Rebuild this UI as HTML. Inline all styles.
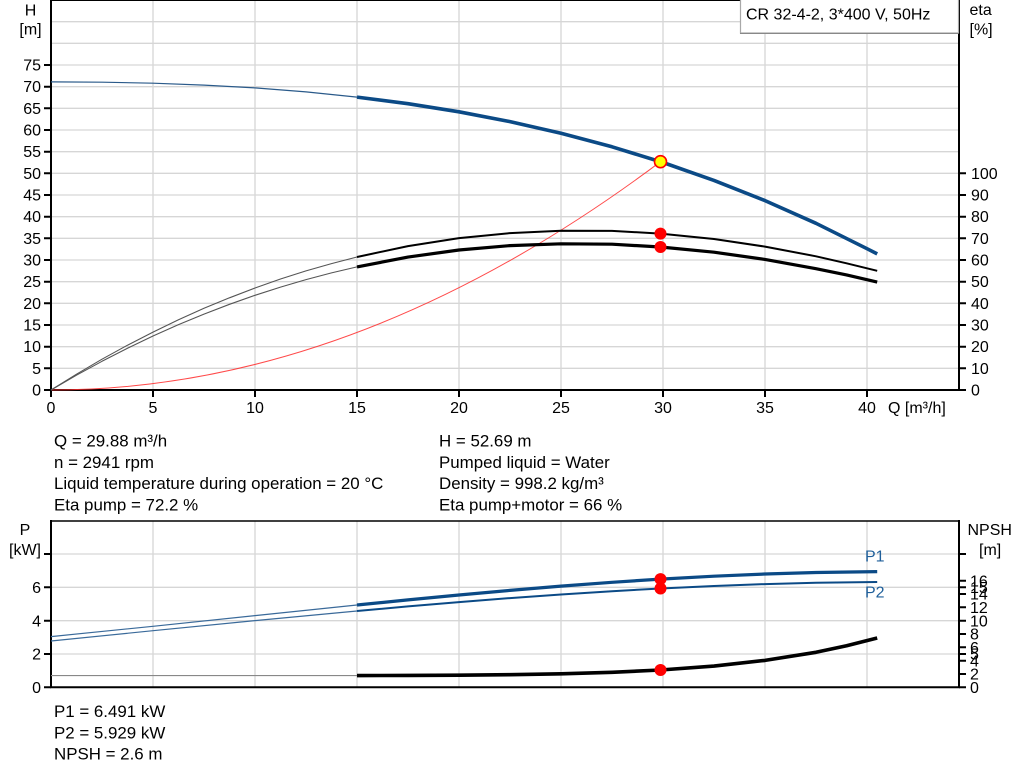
<!DOCTYPE html>
<html>
<head>
<meta charset="utf-8">
<style>
html,body{margin:0;padding:0;background:#fff;}
svg{display:block;}
text{font-family:"Liberation Sans",Arial,sans-serif;fill:#000;}
.ax{font-size:16px;}
.tx{font-size:16.9px;}
</style>
</head>
<body>
<svg width="1024" height="781" viewBox="0 0 1024 781" xmlns="http://www.w3.org/2000/svg">
<rect x="0" y="0" width="1024" height="781" fill="#fff"/>

<!-- ===== TOP CHART ===== -->
<g stroke="#d6d6d6" stroke-width="1.3" fill="none">
  <line x1="51" y1="368.3" x2="959" y2="368.3"/>
  <line x1="51" y1="346.7" x2="959" y2="346.7"/>
  <line x1="51" y1="325" x2="959" y2="325"/>
  <line x1="51" y1="303.3" x2="959" y2="303.3"/>
  <line x1="51" y1="281.7" x2="959" y2="281.7"/>
  <line x1="51" y1="260" x2="959" y2="260"/>
  <line x1="51" y1="238.3" x2="959" y2="238.3"/>
  <line x1="51" y1="216.7" x2="959" y2="216.7"/>
  <line x1="51" y1="195" x2="959" y2="195"/>
  <line x1="51" y1="173.3" x2="959" y2="173.3"/>
  <line x1="51" y1="151.7" x2="959" y2="151.7"/>
  <line x1="51" y1="130" x2="959" y2="130"/>
  <line x1="51" y1="108.3" x2="959" y2="108.3"/>
  <line x1="51" y1="86.7" x2="959" y2="86.7"/>
  <line x1="51" y1="65" x2="959" y2="65"/>
  <line x1="51" y1="43.3" x2="959" y2="43.3"/>
  <line x1="51" y1="21.7" x2="959" y2="21.7"/>
  <line x1="153" y1="0" x2="153" y2="390"/>
  <line x1="255" y1="0" x2="255" y2="390"/>
  <line x1="357" y1="0" x2="357" y2="390"/>
  <line x1="459" y1="0" x2="459" y2="390"/>
  <line x1="561" y1="0" x2="561" y2="390"/>
  <line x1="663" y1="0" x2="663" y2="390"/>
  <line x1="765" y1="0" x2="765" y2="390"/>
  <line x1="867" y1="0" x2="867" y2="390"/>
</g>

<!-- axes -->
<g stroke="#000" fill="none">
  <line x1="51" y1="0.5" x2="959" y2="0.5" stroke-width="1"/>
  <line x1="51" y1="0" x2="51" y2="391" stroke-width="2"/>
  <line x1="959" y1="0" x2="959" y2="391" stroke-width="2"/>
  <line x1="50" y1="390" x2="960" y2="390" stroke-width="2"/>
  <path stroke-width="2" d="M44 390H51M44 368.3H51M44 346.7H51M44 325H51M44 303.3H51M44 281.7H51M44 260H51M44 238.3H51M44 216.7H51M44 195H51M44 173.3H51M44 151.7H51M44 130H51M44 108.3H51M44 86.7H51M44 65H51"/>
  <path stroke-width="2" d="M959 390H966M959 368.3H966M959 346.7H966M959 325H966M959 303.3H966M959 281.7H966M959 260H966M959 238.3H966M959 216.7H966M959 195H966M959 173.3H966"/>
  <path stroke-width="2" d="M51 390V397M153 390V397M255 390V397M357 390V397M459 390V397M561 390V397M663 390V397M765 390V397M867 390V397"/>
</g>

<g class="ax" text-anchor="end">
  <text x="41" y="395.5">0</text>
  <text x="41" y="373.8">5</text>
  <text x="41" y="352.2">10</text>
  <text x="41" y="330.5">15</text>
  <text x="41" y="308.8">20</text>
  <text x="41" y="287.2">25</text>
  <text x="41" y="265.5">30</text>
  <text x="41" y="243.8">35</text>
  <text x="41" y="222.2">40</text>
  <text x="41" y="200.5">45</text>
  <text x="41" y="178.8">50</text>
  <text x="41" y="157.2">55</text>
  <text x="41" y="135.5">60</text>
  <text x="41" y="113.8">65</text>
  <text x="41" y="92.2">70</text>
  <text x="41" y="70.5">75</text>
</g>
<text class="ax" x="30.5" y="15.5" text-anchor="middle">H</text>
<text class="ax" x="30.5" y="34.5" text-anchor="middle">[m]</text>

<g class="ax">
  <text x="971" y="395.5">0</text>
  <text x="971" y="373.8">10</text>
  <text x="971" y="352.2">20</text>
  <text x="971" y="330.5">30</text>
  <text x="971" y="308.8">40</text>
  <text x="971" y="287.2">50</text>
  <text x="971" y="265.5">60</text>
  <text x="971" y="243.8">70</text>
  <text x="971" y="222.2">80</text>
  <text x="971" y="200.5">90</text>
  <text x="971" y="178.8">100</text>
  <text x="969.5" y="15">eta</text>
  <text x="969.5" y="34.5">[%]</text>
</g>

<g class="ax" text-anchor="middle">
  <text x="51" y="413">0</text>
  <text x="153" y="413">5</text>
  <text x="255" y="413">10</text>
  <text x="357" y="413">15</text>
  <text x="459" y="413">20</text>
  <text x="561" y="413">25</text>
  <text x="663" y="413">30</text>
  <text x="765" y="413">35</text>
  <text x="867" y="413">40</text>
</g>
<text class="ax" x="888" y="413">Q [m³/h]</text>

<!-- legend box -->
<rect x="740.5" y="-2" width="218" height="35" fill="#fff" stroke="#a8a8a8" stroke-width="1.2"/>
<line x1="740" y1="33.5" x2="958" y2="33.5" stroke="#888" stroke-width="1"/>
<text class="ax" x="746" y="19.5">CR 32-4-2, 3*400 V, 50Hz</text>

<!-- system curve (red) -->
<path d="M51 390 Q355.8 390 660.5 161.7" fill="none" stroke="#ff2a2a" stroke-width="1" opacity="0.85"/>

<!-- eta curves thin -->
<g fill="none" stroke="#555" stroke-width="1.1" stroke-linejoin="round">
  <path d="M51 390 L76.5 374.2 L102 359.2 L127.5 345.2 L153 332.1 L178.5 319.8 L204 308.3 L229.5 297.8 L255 288 L280.5 279 L306 270.9 L331.5 263.6 L357 257"/>
  <path d="M51 390 L76.5 375.2 L102 361.3 L127.5 348.2 L153 336 L178.5 324.6 L204 314.1 L229.5 304.3 L255 295.3 L280.5 287.1 L306 279.6 L331.5 272.9 L357 266.9"/>
</g>
<g fill="none" stroke="#000" stroke-linejoin="round" stroke-linecap="butt">
  <path stroke-width="2" d="M357 257 L408 246.1 L459 238.1 L510 233.1 L561 230.7 L612 230.9 L660.5 233.6 L714 239 L765 246.6 L816 256.3 L846.6 263.3 L877.2 270.8"/>
  <path stroke-width="3.2" d="M357 266.9 L408 257.1 L459 250 L510 245.6 L561 243.8 L612 244.2 L660.5 247 L714 252.2 L765 259.4 L816 268.7 L846.6 274.9 L877.2 282.1"/>
</g>

<!-- H curve -->
<path d="M51 81.9 L102 82.2 L153 83.2 L204 85.1 L255 87.9 L306 91.9 L357 97.1" fill="none" stroke="#2a5a8a" stroke-width="1.2" stroke-linejoin="round"/>
<path d="M357 97.1 L408 103.7 L459 111.8 L510 121.6 L561 133.3 L612 146.8 L663 162.5 L714 180.4 L765 200.6 L816 223.3 L867 248.7 L877.2 253.9" fill="none" stroke="#0b4a86" stroke-width="3.6" stroke-linejoin="round"/>

<circle cx="660.5" cy="233.6" r="6" fill="#ff0000"/>
<circle cx="660.5" cy="247" r="6" fill="#ff0000"/>
<circle cx="660.5" cy="161.7" r="6" fill="#ffff00" stroke="#ff0000" stroke-width="1.6"/>

<!-- ===== TEXT BLOCK ===== -->
<g class="tx">
  <text x="54" y="446.5">Q = 29.88 m³/h</text>
  <text x="54" y="467.8">n = 2941 rpm</text>
  <text x="54" y="489">Liquid temperature during operation = 20 °C</text>
  <text x="54" y="510.3">Eta pump = 72.2 %</text>
  <text x="439" y="446.5">H = 52.69 m</text>
  <text x="439" y="467.8">Pumped liquid = Water</text>
  <text x="439" y="489">Density = 998.2 kg/m³</text>
  <text x="439" y="510.3">Eta pump+motor = 66 %</text>
</g>

<!-- ===== BOTTOM CHART ===== -->
<g stroke="#d6d6d6" stroke-width="1.3" fill="none">
  <line x1="51" y1="654" x2="959" y2="654"/>
  <line x1="51" y1="620.7" x2="959" y2="620.7"/>
  <line x1="51" y1="587.3" x2="959" y2="587.3"/>
  <line x1="51" y1="554" x2="959" y2="554"/>
  <line x1="153" y1="521" x2="153" y2="687"/>
  <line x1="255" y1="521" x2="255" y2="687"/>
  <line x1="357" y1="521" x2="357" y2="687"/>
  <line x1="459" y1="521" x2="459" y2="687"/>
  <line x1="561" y1="521" x2="561" y2="687"/>
  <line x1="663" y1="521" x2="663" y2="687"/>
  <line x1="765" y1="521" x2="765" y2="687"/>
  <line x1="867" y1="521" x2="867" y2="687"/>
</g>
<g stroke="#000" fill="none">
  <line x1="51" y1="521" x2="959" y2="521" stroke-width="1.5"/>
  <line x1="51" y1="520" x2="51" y2="688" stroke-width="2"/>
  <line x1="959" y1="520" x2="959" y2="688" stroke-width="2"/>
  <line x1="50" y1="687.3" x2="960" y2="687.3" stroke-width="2"/>
  <path stroke-width="2" d="M44 687.3H51M44 654H51M44 620.7H51M44 587.3H51M44 554H51"/>
  <path stroke-width="2" d="M959 687.3H966M959 674H966M959 660.7H966M959 654H966M959 647.3H966M959 634H966M959 620.7H966M959 607.3H966M959 594H966M959 587.3H966M959 580.7H966M959 554H966"/>
</g>
<g class="ax" text-anchor="end">
  <text x="41" y="693">0</text>
  <text x="41" y="659.7">2</text>
  <text x="41" y="626.4">4</text>
  <text x="41" y="593">6</text>
</g>
<text class="ax" x="25" y="535" text-anchor="middle">P</text>
<text class="ax" x="25" y="555" text-anchor="middle">[kW]</text>
<text class="ax" x="967.5" y="535">NPSH</text>
<text class="ax" x="979" y="555">[m]</text>
<g class="ax">
  <text x="970" y="693">0</text>
  <text x="970" y="679.7">2</text>
  <text x="970" y="666.4">4</text>
  <text x="970" y="659.7">5</text>
  <text x="970" y="653">6</text>
  <text x="970" y="639.7">8</text>
  <text x="970" y="626.4">10</text>
  <text x="970" y="613">12</text>
  <text x="970" y="599.7">14</text>
  <text x="970" y="593">15</text>
  <text x="970" y="586.4">16</text>
</g>

<g fill="none" stroke-linejoin="round">
  <path stroke="#3a6a9a" stroke-width="1.2" d="M51 636.6 L153 626.3 L255 615.6 L357 605"/>
  <path stroke="#3a6a9a" stroke-width="1.2" d="M51 641 L153 630.7 L255 620.6 L357 611"/>
  <path stroke="#0b4a86" stroke-width="3.2" d="M357 605 L408 599.9 L459 595 L510 590.4 L561 586.1 L612 582.3 L660.5 579.1 L714 576.2 L765 574 L816 572.5 L877.2 571.6"/>
  <path stroke="#0b4a86" stroke-width="2" d="M357 611 L408 606.4 L459 602.1 L510 598.1 L561 594.5 L612 591.2 L660.5 588.5 L714 586 L765 584.1 L816 582.8 L877.2 582"/>
  <path stroke="#888" stroke-width="1.1" d="M51 675.6 L357 675.6"/>
  <path stroke="#000" stroke-width="3.6" d="M357 675.6 L408 675.4 L459 675.2 L510 674.7 L561 673.8 L612 672.3 L660.5 670 L714 666.1 L765 660.4 L816 652.3 L846.6 645.8 L877.2 638"/>
</g>
<text class="ax" x="865" y="561.7" style="fill:#1f5f9a">P1</text>
<text class="ax" x="865" y="597.7" style="fill:#1f5f9a">P2</text>

<circle cx="660.5" cy="579.1" r="6" fill="#ff0000"/>
<circle cx="660.5" cy="588.5" r="6" fill="#ff0000"/>
<circle cx="660.5" cy="670" r="6" fill="#ff0000"/>

<g class="tx">
  <text x="54" y="717">P1 = 6.491 kW</text>
  <text x="54" y="738.3">P2 = 5.929 kW</text>
  <text x="54" y="759.6">NPSH = 2.6 m</text>
</g>
</svg>
</body>
</html>
